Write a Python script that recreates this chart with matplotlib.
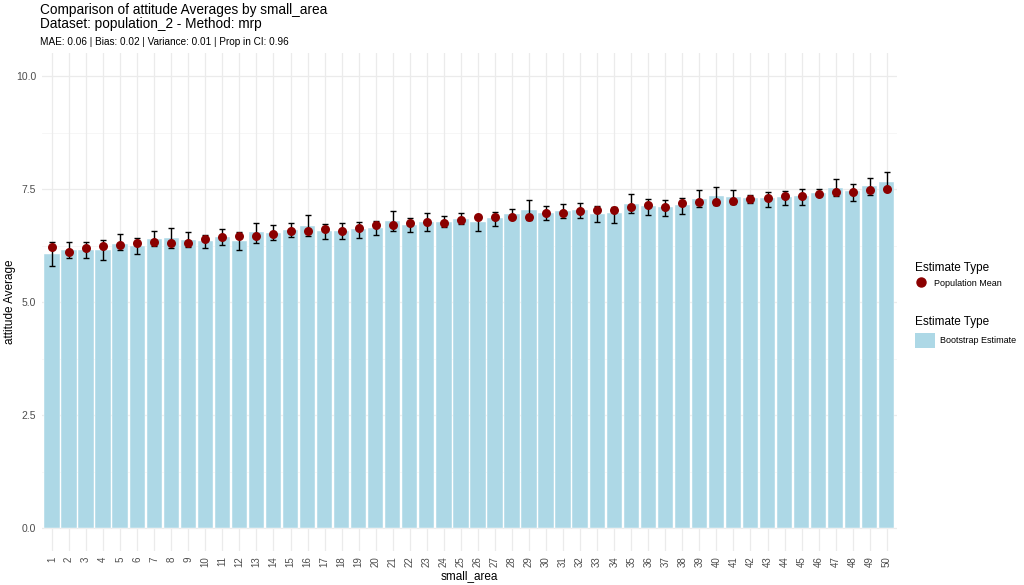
import numpy as np
import matplotlib
matplotlib.use("Agg")
import matplotlib.pyplot as plt
from matplotlib.lines import Line2D
from matplotlib.patches import Patch

matplotlib.rcParams["font.family"] = ["Liberation Sans", "DejaVu Sans"]

# =========================
# 数据
# =========================
areas = list(range(1, 51))

boot_est = [6.06, 6.15, 6.16, 6.16, 6.29, 6.25, 6.39, 6.42, 6.38, 6.35,
            6.43, 6.36, 6.54, 6.53, 6.59, 6.68, 6.57, 6.58, 6.61, 6.64,
            6.79, 6.70, 6.77, 6.78, 6.84, 6.76, 6.86, 6.95, 7.04, 6.98,
            7.01, 7.03, 6.95, 6.98, 7.17, 7.12, 7.10, 7.15, 7.27, 7.34,
            7.32, 7.29, 7.29, 7.32, 7.34, 7.42, 7.52, 7.45, 7.56, 7.66]

pop_mean = [6.21, 6.11, 6.19, 6.23, 6.26, 6.31, 6.33, 6.31, 6.31, 6.39,
            6.44, 6.46, 6.45, 6.50, 6.56, 6.57, 6.61, 6.58, 6.64, 6.70,
            6.70, 6.74, 6.78, 6.74, 6.81, 6.87, 6.87, 6.89, 6.89, 6.96,
            6.96, 7.01, 7.03, 7.04, 7.10, 7.14, 7.10, 7.19, 7.21, 7.21,
            7.23, 7.27, 7.30, 7.35, 7.34, 7.38, 7.44, 7.43, 7.48, 7.50]

ci_lower = [5.80, 5.98, 5.97, 5.93, 6.14, 6.06, 6.24, 6.20, 6.22, 6.19,
            6.27, 6.15, 6.30, 6.37, 6.43, 6.45, 6.39, 6.39, 6.42, 6.48,
            6.57, 6.54, 6.58, 6.65, 6.72, 6.56, 6.69, 6.85, 6.82, 6.81,
            6.85, 6.86, 6.76, 6.75, 6.97, 6.93, 6.91, 6.95, 7.10, 7.15,
            7.17, 7.20, 7.10, 7.14, 7.14, 7.34, 7.35, 7.24, 7.37, 7.45]

ci_upper = [6.32, 6.33, 6.32, 6.38, 6.50, 6.42, 6.57, 6.64, 6.54, 6.49,
            6.61, 6.55, 6.75, 6.70, 6.74, 6.92, 6.73, 6.74, 6.76, 6.80,
            7.01, 6.86, 6.96, 6.90, 6.96, 6.90, 6.99, 7.06, 7.26, 7.13,
            7.17, 7.19, 7.12, 7.10, 7.40, 7.27, 7.26, 7.31, 7.48, 7.54,
            7.48, 7.37, 7.43, 7.46, 7.51, 7.50, 7.73, 7.61, 7.75, 7.87]

y_ticks = [0.0, 2.5, 5.0, 7.5, 10.0]

# =========================
# 绘图
# =========================
W, H = 1024, 585
fig = plt.figure(figsize=(W / 100, H / 100), dpi=100)
fig.patch.set_facecolor("white")

left, right, bottom, top = 41.8, 897, 550.6, 53.4
ax = fig.add_axes([left / W, 1 - bottom / H, (right - left) / W, (bottom - top) / H])

x = np.array(areas)
boot = np.array(boot_est)
lo = np.array(ci_lower)
hi = np.array(ci_upper)

# 网格
for t in y_ticks:
    ax.axhline(t, color="#EBEBEB", lw=0.9, zorder=0)
for t in np.arange(1.25, 10.5, 2.5):
    ax.axhline(t, color="#F3F3F3", lw=0.5, zorder=0)
for xi in x:
    ax.axvline(xi, color="#EBEBEB", lw=0.9, zorder=0)

ax.bar(x, boot, width=0.9, color="#ADD8E6", edgecolor="white", lw=0.3, zorder=1)
ax.errorbar(x, boot, yerr=[boot - lo, hi - boot], fmt="none", ecolor="black",
            elinewidth=1.0, capsize=2.2, capthick=1.0, zorder=2)
ax.scatter(x, pop_mean, s=42, color="#8B0000", zorder=3, linewidths=0)

ax.set_xlim(0.4, 50.6)
ax.set_ylim(-0.5, 10.5)
ax.set_xticks(x)
ax.set_xticklabels([str(a) for a in areas], rotation=90, fontsize=7, color="#4D4D4D")
ax.set_yticks(y_ticks)
ax.set_yticklabels([f"{t:.1f}" for t in y_ticks], fontsize=7.5, color="#4D4D4D")
ax.tick_params(length=0, pad=4)
for s in ax.spines.values():
    s.set_visible(False)

ax.set_xlabel("small_area", fontsize=8.5, labelpad=2)
fig.text(10 / W, 1 - 302 / H, "attitude Average", rotation=90, ha="center", va="center", fontsize=8.5)

# 标题
fig.text(40 / W, 1 - 3 / H, "Comparison of attitude Averages by small_area\nDataset: population_2 - Method: mrp",
         ha="left", va="top", fontsize=9.8, linespacing=1.0)
fig.text(40 / W, 1 - 42 / H, "MAE: 0.06 | Bias: 0.02 | Variance: 0.01 | Prop in CI: 0.96",
         ha="left", va="center", fontsize=7.2)

# 图例
h1 = [Line2D([], [], marker="o", ls="none", color="#8B0000", markersize=6.5, label="Population Mean")]
h2 = [Patch(facecolor="#ADD8E6", edgecolor="none", label="Bootstrap Estimate")]
leg1 = fig.legend(handles=h1, title="Estimate Type", loc="upper left",
                  bbox_to_anchor=(907 / W, 1 - 254 / H), frameon=False, fontsize=6.5,
                  title_fontsize=8.5, handlelength=1.2, handletextpad=0.9, alignment="left")
leg2 = fig.legend(handles=h2, title="Estimate Type", loc="upper left",
                  bbox_to_anchor=(907 / W, 1 - 308 / H), frameon=False, fontsize=6.5,
                  title_fontsize=8.5, handlelength=2.2, handleheight=2.2, handletextpad=0.6,
                  alignment="left")

fig.savefig("out.png", dpi=100)
